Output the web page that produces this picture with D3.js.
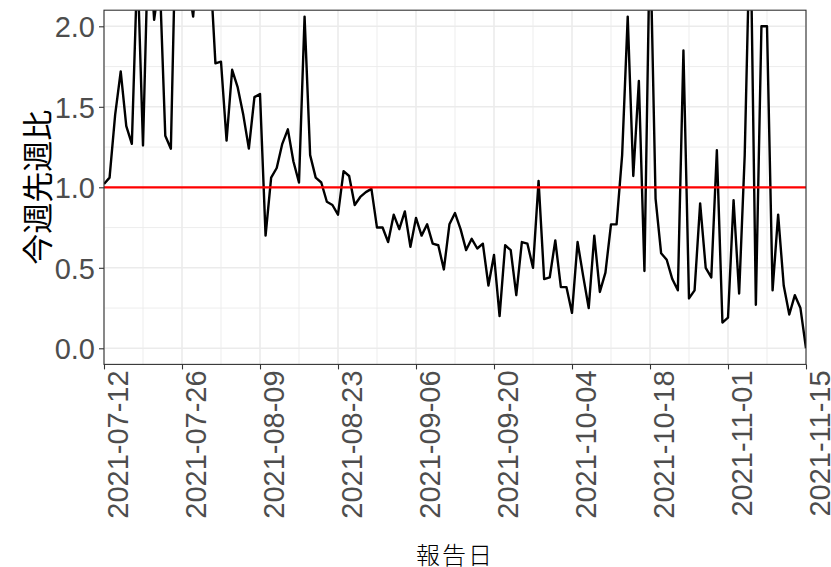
<!DOCTYPE html>
<html>
<head>
<meta charset="utf-8">
<script src="https://cdn.jsdelivr.net/npm/d3@7"></script>
<style>
  html, body { margin: 0; padding: 0; background: #ffffff; }
  svg { display: block; }
</style>
</head>
<body>
<svg id="chart" width="831" height="567"></svg>
<script>
// ---- data ----
const startDate = "2021-07-12";
const ratioValues = [
  1.02, 1.06, 1.45, 1.72, 1.38, 1.27, 2.40, 1.26, 2.60, 2.04,
  2.30, 1.32, 1.24, 2.80, 2.50, 2.30, 2.06, 2.50, 3.00, 2.40,
  1.77, 1.78, 1.29, 1.73, 1.62, 1.45, 1.24, 1.56, 1.58, 0.70,
  1.06, 1.12, 1.27, 1.36, 1.16, 1.03, 2.06, 1.20, 1.06, 1.03,
  0.91, 0.89, 0.83, 1.10, 1.07, 0.89, 0.94, 0.97, 0.99, 0.75,
  0.75, 0.66, 0.83, 0.74, 0.85, 0.63, 0.81, 0.70, 0.77, 0.65,
  0.64, 0.49, 0.77, 0.84, 0.74, 0.61, 0.68, 0.62, 0.65, 0.39,
  0.58, 0.20, 0.64, 0.61, 0.33, 0.66, 0.65, 0.50, 1.04, 0.43,
  0.44, 0.67, 0.38, 0.38, 0.22, 0.66, 0.45, 0.25, 0.70, 0.35,
  0.47, 0.77, 0.77, 1.20, 2.06, 1.07, 1.66, 0.48, 2.60, 0.93,
  0.59, 0.55, 0.43, 0.36, 1.85, 0.31, 0.36, 0.90, 0.50, 0.44,
  1.23, 0.16, 0.19, 0.92, 0.34, 1.20, 2.70, 0.27, 2.00, 2.00,
  0.36, 0.83, 0.39, 0.21, 0.33, 0.25, 0.00
];
const xTickLabels = ["2021-07-12","2021-07-26","2021-08-09","2021-08-23","2021-09-06",
                     "2021-09-20","2021-10-04","2021-10-18","2021-11-01","2021-11-15"];
const xMinorDates = ["2021-07-19","2021-08-02","2021-08-16","2021-08-30","2021-09-13",
                     "2021-09-27","2021-10-11","2021-10-25","2021-11-08"];
const yTickValues = [0, 0.5, 1, 1.5, 2];
const yTickLabels = ["0.0", "0.5", "1.0", "1.5", "2.0"];
const yMinorValues = [0.25, 0.75, 1.25, 1.75];
const refLine = 1.0;
const xTitle = "報告日";
const yTitle = "今週先週比";

// ---- layout ----
const parse = d3.utcParse("%Y-%m-%d");
const t0 = parse(startDate);
const data = ratioValues.map((v, i) => ({ date: d3.utcDay.offset(t0, i), value: v }));

const panel = { left: 104, right: 806, top: 10.2, bottom: 364.4 };
const x = d3.scaleUtc()
  .domain([parse("2021-07-12"), parse("2021-11-15")])
  .range([panel.left, panel.right]);
const y = d3.scaleLinear().domain([-0.1, 2.1]).range([panel.bottom, panel.top]);

const svg = d3.select("#chart");
const grid = svg.append("g");

// minor grid
grid.selectAll(".xminor").data(xMinorDates.map(parse)).join("line")
  .attr("x1", d => x(d)).attr("x2", d => x(d))
  .attr("y1", panel.top).attr("y2", panel.bottom)
  .attr("stroke", "#ebebeb").attr("stroke-width", 0.9);
grid.selectAll(".yminor").data(yMinorValues).join("line")
  .attr("x1", panel.left).attr("x2", panel.right)
  .attr("y1", d => y(d)).attr("y2", d => y(d))
  .attr("stroke", "#ebebeb").attr("stroke-width", 0.9);
// major grid
grid.selectAll(".xmajor").data(xTickLabels.map(parse)).join("line")
  .attr("x1", d => x(d)).attr("x2", d => x(d))
  .attr("y1", panel.top).attr("y2", panel.bottom)
  .attr("stroke", "#ebebeb").attr("stroke-width", 1.6);
grid.selectAll(".ymajor").data(yTickValues).join("line")
  .attr("x1", panel.left).attr("x2", panel.right)
  .attr("y1", d => y(d)).attr("y2", d => y(d))
  .attr("stroke", "#ebebeb").attr("stroke-width", 1.6);

// clip
svg.append("defs").append("clipPath").attr("id", "clip")
  .append("rect")
  .attr("x", panel.left).attr("y", panel.top)
  .attr("width", panel.right - panel.left).attr("height", panel.bottom - panel.top);

const line = d3.line().x(d => x(d.date)).y(d => y(d.value));
svg.append("path")
  .datum(data)
  .attr("clip-path", "url(#clip)")
  .attr("fill", "none")
  .attr("stroke", "#000000")
  .attr("stroke-width", 2.4)
  .attr("stroke-linejoin", "round")
  .attr("d", line);

svg.append("line")
  .attr("clip-path", "url(#clip)")
  .attr("x1", panel.left).attr("x2", panel.right)
  .attr("y1", y(refLine)).attr("y2", y(refLine))
  .attr("stroke", "#ff0000").attr("stroke-width", 2.3);

// panel border
svg.append("rect")
  .attr("x", panel.left).attr("y", panel.top)
  .attr("width", panel.right - panel.left).attr("height", panel.bottom - panel.top)
  .attr("fill", "none").attr("stroke", "#333333").attr("stroke-width", 1.1);

// axes
const fontTick = "'Liberation Sans', Arial, sans-serif";
const yAxis = d3.axisLeft(y).tickValues(yTickValues)
  .tickFormat((d, i) => yTickLabels[i]).tickSizeOuter(0).tickSize(5).tickPadding(4);
const gy = svg.append("g").attr("transform", `translate(${panel.left},0)`).call(yAxis);
gy.select(".domain").remove();
gy.selectAll(".tick line").attr("stroke", "#333333").attr("stroke-width", 1.1);
gy.selectAll(".tick text")
  .attr("fill", "#4d4d4d").style("font-family", fontTick).style("font-size", "29px")
  .attr("dy", "0.36em");

const xAxis = d3.axisBottom(x).tickValues(xTickLabels.map(parse))
  .tickFormat((d, i) => xTickLabels[i]).tickSizeOuter(0).tickSize(5);
const gx = svg.append("g").attr("transform", `translate(0,${panel.bottom})`).call(xAxis);
gx.select(".domain").remove();
gx.selectAll(".tick line").attr("stroke", "#333333").attr("stroke-width", 1.1);
gx.selectAll(".tick text")
  .attr("fill", "#4d4d4d").style("font-family", fontTick).style("font-size", "29px")
  .attr("text-anchor", "end")
  .attr("transform", "rotate(-90)")
  .attr("x", -6).attr("y", 0).attr("dy", "0.80em");

// titles
svg.append("text")
  .attr("x", (panel.left + panel.right) / 2).attr("y", 553)
  .attr("text-anchor", "middle").attr("dominant-baseline", "central")
  .style("font-family", "'Noto Sans CJK JP', sans-serif").style("font-size", "24px")
  .style("font-weight", "300").style("letter-spacing", "2px")
  .attr("fill", "#000").text(xTitle);
svg.append("text")
  .attr("transform", `translate(35,${(panel.top + panel.bottom) / 2}) rotate(-90)`)
  .attr("text-anchor", "middle").attr("dominant-baseline", "central")
  .style("font-family", "'Noto Sans CJK JP', sans-serif").style("font-size", "31px")
  .attr("fill", "#000").text(yTitle);
</script>
</body>
</html>
